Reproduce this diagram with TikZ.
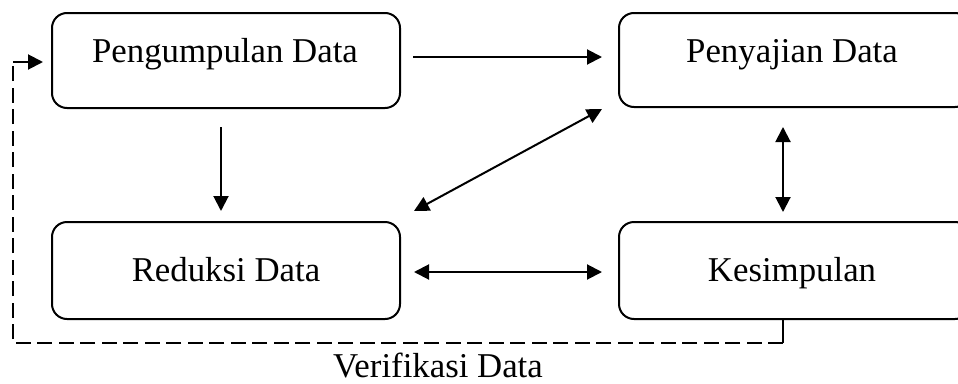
\documentclass[tikz,border=0pt]{standalone}
\usepackage{fontspec}
\setmainfont{Liberation Serif}
\usetikzlibrary{arrows.meta,calc}
\begin{document}
\begin{tikzpicture}[x=1pt,y=-1pt,
  box/.style={draw, line width=2pt, rounded corners=15pt, inner sep=0pt, outer sep=0pt},
  lbl/.style={font=\fontsize{34.8}{40}\selectfont, anchor=base, inner sep=0pt},
  link/.style={line width=2pt, -{Triangle[length=15pt,width=15pt]}},
  both/.style={line width=2pt, {Triangle[length=15pt,width=15pt]}-{Triangle[length=15pt,width=15pt]}},
  verif/.style={line width=2pt, dash pattern=on 15pt off 6.5pt}]
\useasboundingbox (0,0) rectangle (958,383);

% the four stages
\node[box, minimum width=348pt, minimum height=95pt] (pg) at (226,60.5) {};
\node[box, minimum width=351pt, minimum height=94pt] (pj) at (794.5,60) {};
\node[box, minimum width=348pt, minimum height=97pt] (rd) at (226,270.5) {};
\node[box, minimum width=351pt, minimum height=97pt] (ks) at (794.5,270.5) {};

% labels
\node[lbl] (tpg) at (225,62) {Pengumpulan Data};
\node[lbl] (tpj) at (792,62) {Penyajian Data};
\node[lbl] (trd) at (226,281) {Reduksi Data};
\node[lbl] (tks) at (792,281) {Kesimpulan};
\node[lbl] (tvf) at (438,377.5) {Verifikasi Data};

% flows between stages
\draw[link] ($(pg.east)+(13,-3.5)$) -- ($(pj.west)+(-17,-3)$);
\draw[link] ($(pg.south)+(-5,19)$) -- ($(rd.north)+(-5,-11)$);
\draw[both] ($(pj.south west)+(-17,2)$) -- ($(rd.north east)+(14,-11)$);
\draw[both] ($(pj.south west)+(164,20)$) -- ($(ks.north west)+(164,-10)$);
\draw[both] ($(rd.east)+(14,1.5)$) -- ($(ks.west)+(-17,1.5)$);

% verification loop back to data collection
\coordinate (vtop) at ($(ks.south west)+(164,0)$);
\coordinate (vb) at ($(ks.south west)+(164,24)$);
\coordinate (vx) at (13,0);
\coordinate (vend) at ($(pg.west)+(-9,1.5)$);
\draw[line width=2pt] (vtop) -- (vb);
\draw[verif] (vb) -- (vb -| vx) -- (vx |- vend);
\draw[link] (vx |- vend) -- (vend);
\end{tikzpicture}
\end{document}
